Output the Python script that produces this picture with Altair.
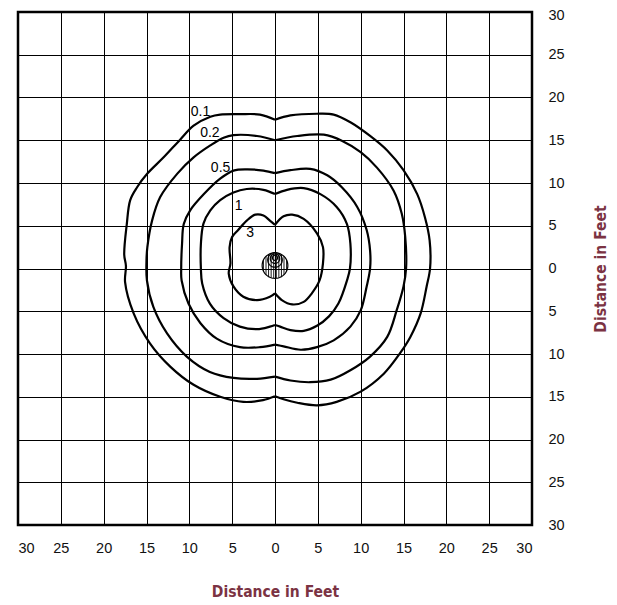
import altair as alt
import pandas as pd
import numpy as np

# ---- data (feet) ----
TICKS = list(range(-30, 35, 5))

# contour halves: right half runs from top cusp clockwise to bottom cusp,
# left half runs from bottom cusp clockwise back to top cusp
C01_R = [(0, 17.4), (1.8, 17.9), (4.9, 18.1), (6.85, 18.0), (8.8, 17.1), (11.1, 15.5), (13.1, 13.8),
         (15.0, 11.5), (16.6, 8.7), (17.5, 6.0), (18.05, 3.3), (18.1, 0), (17.7, -2.1), (17.0, -5.25),
         (15.8, -8.0), (14.6, -9.9), (12.7, -12.3), (10.0, -14.4), (7.2, -15.6), (4.9, -16.0),
         (2.6, -15.7), (1.0, -15.3), (0, -14.95)]
C01_L = [(0, -14.95), (-1.4, -15.4), (-3.7, -15.6), (-6.4, -15.0), (-9.5, -13.6), (-12.2, -11.5),
         (-14.6, -8.75), (-16.5, -5.25), (-17.5, -1.6), (-17.4, 0.3), (-17.6, 1.6), (-17.3, 5.2),
         (-16.9, 8.0), (-16.1, 9.5), (-14.9, 11.1), (-13.0, 13.0), (-11.05, 15.1), (-9.5, 16.7),
         (-7.55, 17.75), (-6.4, 18.0), (-4.1, 18.05), (-1.75, 18.0), (0, 17.4)]

C02_R = [(0, 15.0), (2.6, 15.5), (5.7, 15.65), (7.8, 14.95), (10.0, 13.6), (11.9, 11.8), (13.85, 9.1),
         (14.8, 6.4), (15.2, 3.7), (15.3, 0), (15.0, -2.1), (14.2, -4.9), (13.1, -8.0), (11.1, -10.3),
         (8.8, -11.9), (6.5, -13.0), (4.1, -13.3), (1.8, -13.1), (0, -12.65)]
C02_L = [(0, -12.65), (-2.1, -12.9), (-4.85, -12.8), (-7.6, -12.1), (-10.3, -10.3), (-12.6, -7.6),
         (-14.2, -4.5), (-14.95, -1.4), (-15.0, 1.0), (-14.9, 2.5), (-14.35, 5.6), (-13.4, 8.35),
         (-11.4, 11.1), (-9.5, 13.0), (-7.55, 14.4), (-6.0, 15.3), (-4.85, 15.6), (-2.1, 15.5), (0, 15.0)]

C05_R = [(0, 11.15), (1.8, 11.5), (4.1, 11.65), (6.1, 10.9), (7.8, 9.5), (9.6, 7.2), (10.7, 4.5),
         (11.1, 2.1), (11.1, 0), (10.7, -2.1), (10.0, -4.9), (8.8, -6.8), (6.85, -8.4), (4.9, -9.2),
         (3.0, -9.5), (1.0, -9.1), (0, -8.9)]
C05_L = [(0, -8.9), (-1.75, -9.2), (-4.1, -9.2), (-6.8, -8.2), (-8.7, -6.4), (-10.1, -4.1),
         (-10.9, -1.4), (-10.95, 0), (-10.85, 2.9), (-10.65, 5.2), (-9.9, 6.8), (-8.3, 8.7),
         (-6.4, 10.5), (-4.85, 11.45), (-3.3, 11.6), (-1.35, 11.45), (0, 11.15)]

C1_R = [(0, 8.7), (1.4, 9.2), (3.35, 9.4), (5.3, 8.7), (7.2, 7.2), (8.4, 5.2), (8.8, 2.9), (8.75, 0),
        (8.4, -1.4), (7.4, -4.1), (6.3, -5.6), (4.9, -6.7), (3.35, -7.3), (1.8, -7.2), (0.6, -6.8),
        (0, -6.6)]
C1_L = [(0, -6.6), (-0.6, -6.8), (-2.1, -7.1), (-4.1, -6.8), (-6.0, -5.8), (-7.6, -4.1), (-8.5, -1.75),
        (-8.65, 0), (-8.65, 2.9), (-8.35, 5.25), (-7.55, 6.8), (-6.4, 8.0), (-4.85, 8.9), (-3.3, 9.3),
        (-1.35, 9.2), (0, 8.7)]

C3_R = [(0, 5.1), (1.0, 6.1), (2.0, 6.3), (3.35, 5.8), (4.9, 4.1), (5.6, 2.5), (5.6, 0.6), (5.2, -1.4),
        (4.3, -2.9), (3.35, -3.9), (2.0, -4.2), (0.8, -3.7), (0, -2.9)]
C3_L = [(0, -2.9), (-0.6, -3.3), (-2.1, -3.7), (-3.7, -3.3), (-4.85, -2.1), (-5.4, -0.6), (-5.2, 0.6),
        (-5.3, 2.5), (-5.0, 3.7), (-4.3, 4.5), (-3.3, 5.6), (-2.3, 6.3), (-1.35, 6.2), (-0.6, 5.6), (0, 5.1)]

LEVELS = ["0.1", "0.2", "0.5", "1", "3"]
LABEL_X = [-8.7, -7.6, -6.35, -4.25, -2.9]
LABEL_Y = [18.3, 15.8, 11.8, 7.35, 4.15]

# fixture symbol at the centre (circles in feet)
LAMP_CX, LAMP_CY, LAMP_R = 0.0, 0.35, 1.5
HOT_CX = [0.0, 0.0, 0.0]
HOT_CY = [1.0, 1.15, 1.25]
HOT_R = [0.85, 0.55, 0.3]
HATCH_STEP = 0.3

# ---- build tables ----
rows = []
for lvl, (r, l) in zip(LEVELS, [(C01_R, C01_L), (C02_R, C02_L), (C05_R, C05_L), (C1_R, C1_L), (C3_R, C3_L)]):
    for side, pts in (("R", r), ("L", l)):
        for i, (x, y) in enumerate(pts):
            rows.append({"key": lvl + side, "i": i, "x": x, "y": y})
contours = pd.DataFrame(rows)

circ_rows = []
t = np.linspace(0, 2 * np.pi, 61)
circles = [(LAMP_CX, LAMP_CY, LAMP_R)] + list(zip(HOT_CX, HOT_CY, HOT_R))
for k, (cx, cy, r) in enumerate(circles):
    for i, a in enumerate(t):
        circ_rows.append({"key": f"c{k}", "i": i, "x": cx + r * np.sin(a), "y": cy + r * np.cos(a)})
circ = pd.DataFrame(circ_rows)

hx = np.arange(-LAMP_R + HATCH_STEP / 2, LAMP_R, HATCH_STEP)
hatch = pd.DataFrame({"x": hx,
                      "y": LAMP_CY - np.sqrt(LAMP_R ** 2 - hx ** 2),
                      "y2": LAMP_CY + np.sqrt(LAMP_R ** 2 - hx ** 2)})

labels = pd.DataFrame({"t": LEVELS, "x": LABEL_X, "y": LABEL_Y})

# ---- encodings ----
X = alt.X("x:Q", scale=alt.Scale(domain=[-30, 30], nice=False, zero=False),
          axis=alt.Axis(values=TICKS, labelExpr="abs(datum.value)", title="Distance in Feet",
                        grid=True, ticks=False, domain=False, labelPadding=16, titlePadding=30))
Y = alt.Y("y:Q", scale=alt.Scale(domain=[-30, 30], nice=False, zero=False),
          axis=alt.Axis(values=TICKS, labelExpr="abs(datum.value)", title="Distance in Feet",
                        orient="right", grid=True, ticks=False, domain=False, labelPadding=16,
                        titlePadding=44, titleAngle=270, labelAlign="left",
                        labelOffset={"condition": {"test": "datum.value == 30", "value": 3}, "value": 0}))

lines = alt.Chart(contours).mark_line(color="black", strokeWidth=2.2, interpolate="catmull-rom").encode(
    x=X, y=Y, detail="key:N", order="i:Q")

circ_l = alt.Chart(circ).mark_line(color="black", strokeWidth=1.2).encode(
    x=X, y=Y, detail="key:N", order="i:Q")

hatch_l = alt.Chart(hatch).mark_rule(color="black", strokeWidth=0.9).encode(
    x=X, y=Y, y2="y2:Q")

text_l = alt.Chart(labels).mark_text(font="Liberation Sans", fontSize=14, color="black").encode(
    x=X, y=Y, text="t:N")

chart = alt.layer(lines, hatch_l, circ_l, text_l).properties(
    width=514, height=513,
    autosize=alt.AutoSizeParams(type="none"),
    padding={"left": 10, "top": 4, "right": 77, "bottom": 75},
).configure_view(stroke="black", strokeWidth=2.5).configure_axis(
    gridColor="black", gridWidth=1, gridOpacity=1,
    labelFont="Liberation Sans", labelFontSize=14.5, labelColor="#111",
    titleFont="Liberation Sans Narrow, DejaVu Sans Condensed, Roboto Condensed, sans-serif",
    titleFontSize=15.5, titleFontWeight="bold", titleColor="#7b3343",
)

chart.save("out.html", embed_options={"renderer": "svg", "actions": False})
